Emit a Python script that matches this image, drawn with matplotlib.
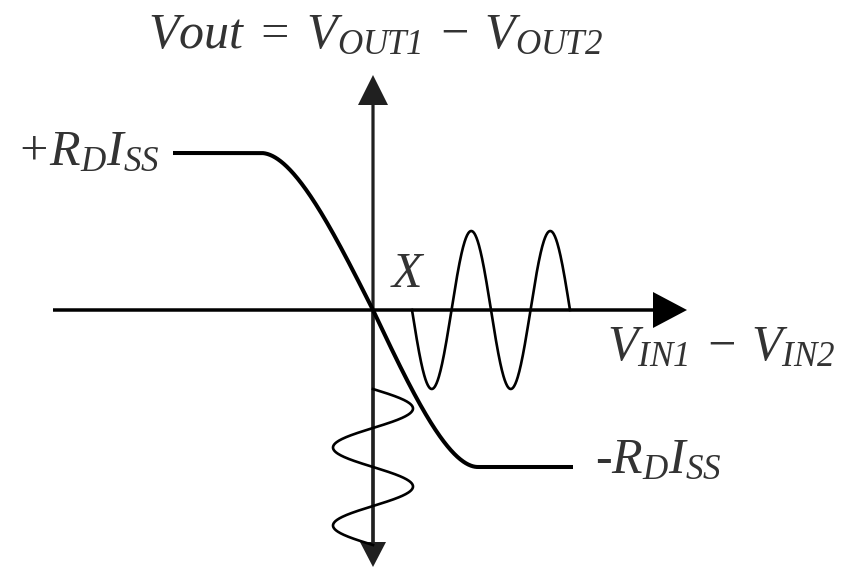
import numpy as np
import matplotlib.pyplot as plt

plt.rcParams['mathtext.fontset'] = 'custom'
plt.rcParams['mathtext.rm'] = 'Liberation Serif:italic'
plt.rcParams['mathtext.it'] = 'Liberation Serif:italic'
plt.rcParams['font.family'] = 'Liberation Serif'

# transfer curve of the differential pair (units: drawing pixels, origin at X)
vout_sat = 157          # +/- R_D*I_SS
vin_sat = [112, 105]    # |vin| where the curve flattens, left and right
vin_span = 200          # length of the flat parts from the origin

# small-signal input along the horizontal axis
vin_start = 39
vin_period = 79
vin_amp = 79
vin_cycles = 2

# resulting output along the vertical axis
vout_start = -79
vout_period = 78
vout_amp = 40
vout_cycles = 2

# axes
h_axis = [-320, 314]
v_axis = [-257, 235]

ink = '#000000'
txt = '#333333'

fig = plt.figure(figsize=(8.47, 5.69), dpi=100)
ax = fig.add_axes([0, 0, 1, 1])
ax.set_xlim(-373, 474)
ax.set_ylim(-259, 310)
ax.axis('off')


def transfer(v):
    sat = np.where(v < 0, vin_sat[0], vin_sat[1])
    u = np.clip(np.abs(v) / sat, 0, 1)
    return -np.sign(v) * vout_sat * u * np.sqrt(2 - u**2)


vin = np.linspace(-vin_span, vin_span, 800)
ax.plot(vin, transfer(vin), color=ink, lw=2.9, solid_capstyle='butt', zorder=3)

# horizontal axis
ax.arrow(h_axis[0], 0, h_axis[1] - h_axis[0], 0, width=3.5, head_width=36, head_length=34,
         length_includes_head=True, color=ink, lw=0, zorder=2)
# vertical axis, arrows at both ends
ax.arrow(0, v_axis[0] + 20, 0, v_axis[1] - v_axis[0] - 20, width=3.2, head_width=30, head_length=30,
         length_includes_head=True, color='#202020', lw=0, zorder=2)
ax.arrow(0, 0, 0, v_axis[0], width=3.2, head_width=26, head_length=25,
         length_includes_head=True, color='#202020', lw=0, zorder=2)

# input sine
x_in = np.linspace(vin_start, vin_start + vin_cycles * vin_period, 400)
y_in = -vin_amp * np.sin(2 * np.pi * (x_in - vin_start) / vin_period)
ax.plot(x_in, y_in, color=ink, lw=1.9, zorder=3)

# output sine
y_out = np.linspace(vout_start, vout_start - vout_cycles * vout_period, 400)
x_out = vout_amp * np.sin(2 * np.pi * (vout_start - y_out) / vout_period)
ax.plot(x_out, y_out, color=ink, lw=1.9, zorder=3)

fs = 36
ax.text(230, 262, r'$Vout\:=\:V_{OUT1}\,-\,V_{OUT2}$', fontsize=fs, color=txt,
        ha='right', va='baseline')
ax.text(-357, 145, r'$+R_DI_{SS}$', fontsize=fs, color=txt, ha='left', va='baseline')
ax.text(17, 23, r'$X$', fontsize=fs, color=txt, ha='left', va='baseline')
ax.text(234, -50, r'$V_{IN1}\,-\,V_{IN2}$', fontsize=fs, color=txt,
        ha='left', va='baseline')
ax.text(222, -163, r'-$R_DI_{SS}$', fontsize=fs, color=txt, ha='left', va='baseline')

plt.savefig('out.png', dpi=100)
